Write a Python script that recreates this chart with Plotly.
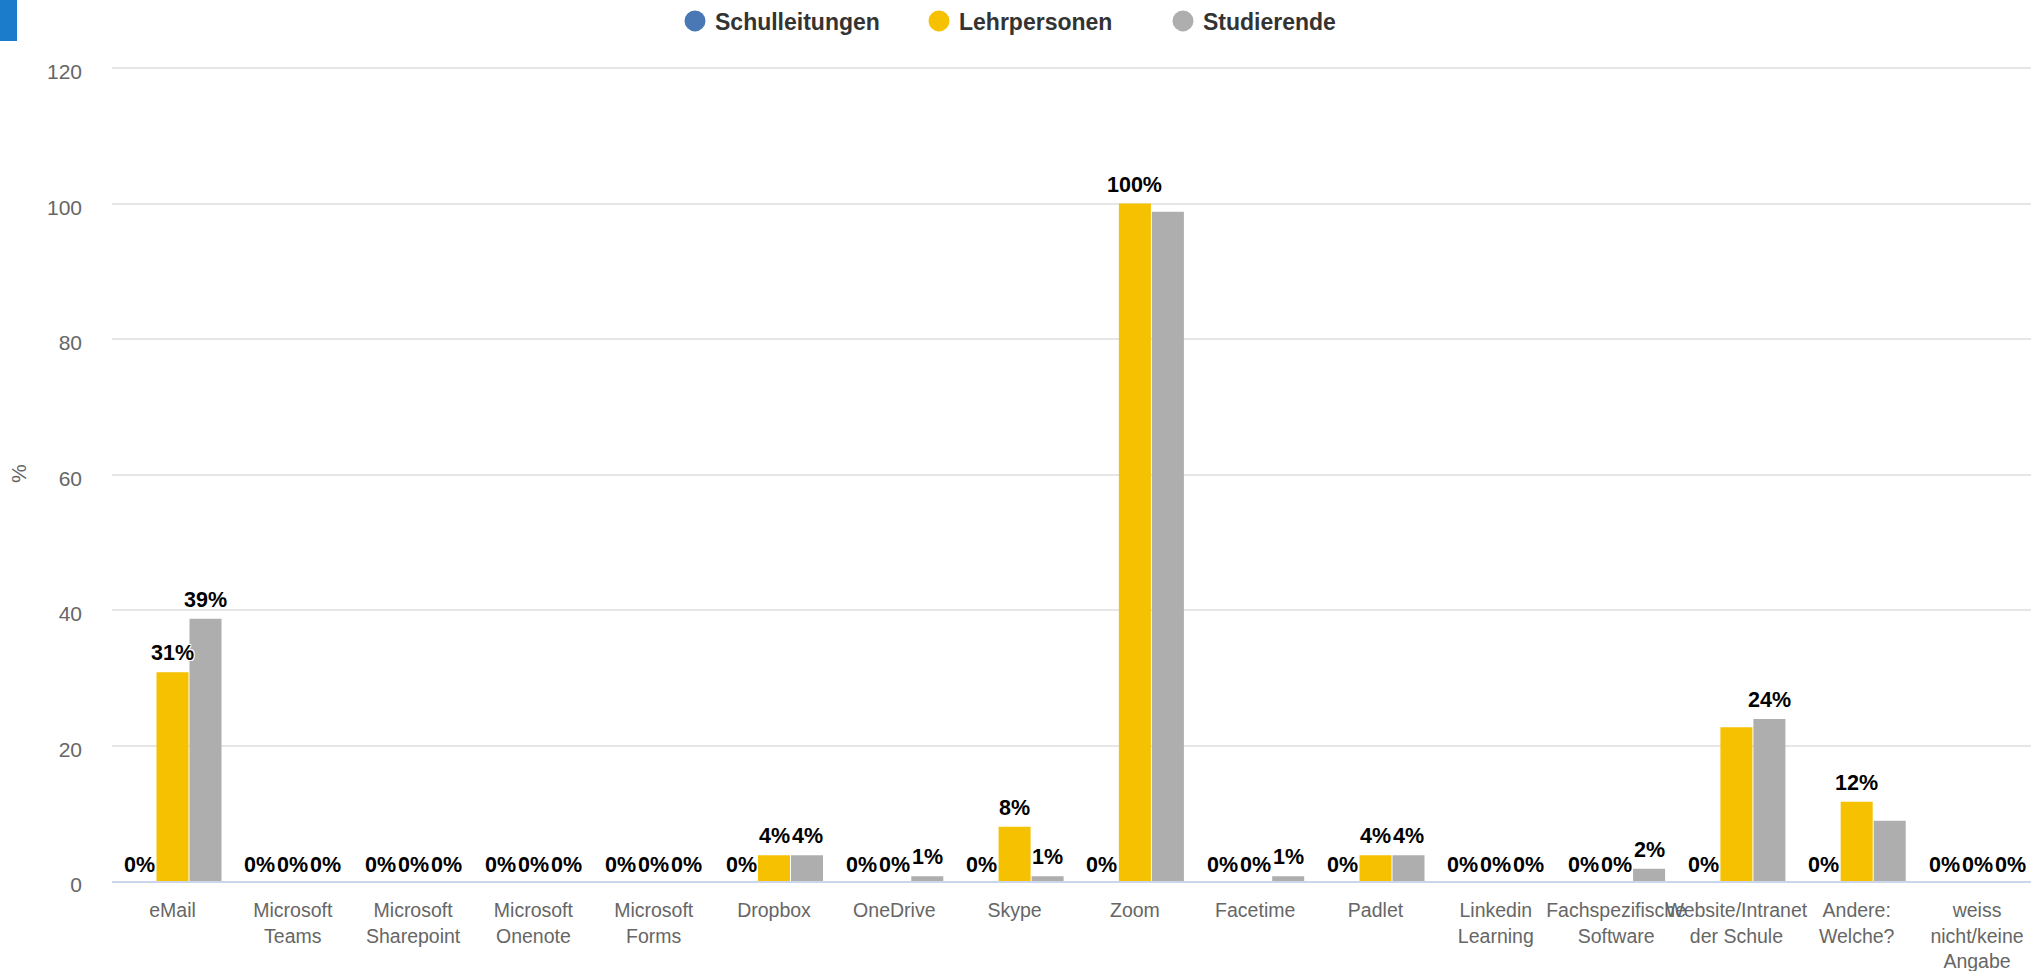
import plotly.graph_objects as go

categories = ["eMail", "Microsoft<br>Teams", "Microsoft<br>Sharepoint", "Microsoft<br>Onenote",
              "Microsoft<br>Forms", "Dropbox", "OneDrive", "Skype", "Zoom", "Facetime", "Padlet",
              "Linkedin<br>Learning", "Fachspezifische<br>Software", "Website/Intranet<br>der Schule",
              "Andere:<br>Welche?", "weiss<br>nicht/keine<br>Angabe"]

series_names = ["Schulleitungen", "Lehrpersonen", "Studierende"]
schulleitungen = [0, 0, 0, 0, 0, 0, 0, 0, 0, 0, 0, 0, 0, 0, 0, 0]
lehrpersonen = [30.8, 0, 0, 0, 0, 3.8, 0, 8.0, 100, 0, 3.8, 0, 0, 22.7, 11.7, 0]
studierende = [38.7, 0, 0, 0, 0, 3.8, 0.7, 0.7, 98.8, 0.7, 3.8, 0, 1.8, 23.9, 8.9, 0]
# data labels that the original chart hides because they overlap
hidden_labels = {"Lehrpersonen": [13], "Studierende": [8, 14], "Schulleitungen": []}

colors = ["#4a78b5", "#f5c100", "#aeaeae"]
y_ticks = [0, 20, 40, 60, 80, 100, 120]

FONT = "Liberation Sans, Arial, Helvetica, sans-serif"
W, H = 2031, 971
L, R, B = 112, 0, 90
Y_TOP = 120.15
unit = (881 - 68) / 120.0
T = round(68 - (Y_TOP - 120) * unit)
plot_w = W - L - R
plot_h = H - T - B
pitch = 120.3
slot = 33
x0 = -(172.5 - L) / pitch
x1 = x0 + plot_w / pitch

fig = go.Figure()
values = [schulleitungen, lehrpersonen, studierende]
for k, (name, vals, col) in enumerate(zip(series_names, values, colors)):
    fig.add_trace(go.Bar(
        x=categories, y=vals, name=name, marker=dict(color=col, line=dict(width=0)),
        showlegend=False, hoverinfo="x+y",
    ))
    # legend entry with circle symbol
    fig.add_trace(go.Scatter(
        x=[None], y=[None], mode="markers", name=name,
        marker=dict(color=col, size=16, symbol="circle", line=dict(color=col, width=5)),
        showlegend=True,
    ))
    for i, v in enumerate(vals):
        if i in hidden_labels[name]:
            continue
        fig.add_annotation(
            x=categories[i], y=v, xref="x", yref="y",
            text="<b>%d%%</b>" % round(v), showarrow=False,
            xanchor="center", yanchor="bottom",
            xshift=(k - 1) * slot, yshift=5 if v > 0 else 2.5,
            font=dict(family=FONT, size=21.5, color="#000000",
                      shadow="-1px -1px 0 #fff, 1px -1px 0 #fff, -1px 1px 0 #fff, 1px 1px 0 #fff"),
        )

fig.update_layout(
    width=W, height=H,
    margin=dict(l=L, r=R, t=T, b=B, pad=0, autoexpand=False),
    paper_bgcolor="white", plot_bgcolor="white",
    barmode="group", bargap=1 - 3 * slot / pitch, bargroupgap=1 / slot,
    font=dict(family=FONT, color="#666666"),
    showlegend=True,
    legend=dict(orientation="h", xanchor="left", yanchor="middle",
                x=(675 - L) / plot_w, y=1 + (T - 21) / plot_h,
                font=dict(family=FONT, size=23, color="#333333", weight="bold"),
                entrywidth=199, entrywidthmode="pixels",
                bgcolor="rgba(0,0,0,0)", itemclick=False, itemdoubleclick=False),
    xaxis=dict(
        type="category", range=[x0, x1], tickangle=0, automargin=False,
        tickfont=dict(family=FONT, size=19.5, color="#666666"),
        showgrid=False, showline=True, linecolor="#ccd6eb", linewidth=2,
        ticks="", ticklabelstandoff=11, fixedrange=True,
    ),
    yaxis=dict(
        range=[0, Y_TOP], tickvals=y_ticks, ticktext=[str(t) for t in y_ticks],
        automargin=False,
        tickfont=dict(family=FONT, size=21, color="#666666"),
        showgrid=True, gridcolor="#e6e6e6", gridwidth=1.5,
        zeroline=False, showline=False, ticks="", ticklabelstandoff=29,
        ticklabelshift=4, fixedrange=True,
    ),
    shapes=[dict(type="rect", xref="paper", yref="paper",
                 x0=(0 - L) / plot_w, x1=(17 - L) / plot_w,
                 y0=(H - B - 41) / plot_h, y1=(H - B) / plot_h,
                 fillcolor="#1b7ccb", line=dict(width=0), layer="above")],
)
fig.add_annotation(
    xref="paper", yref="paper", x=0, y=0.5, xshift=18 - L, text="%", textangle=-90,
    showarrow=False, xanchor="center", yanchor="middle",
    font=dict(family=FONT, size=21, color="#666666"),
)

fig.write_html("out.html", config={"displayModeBar": False},
               post_script="document.body.style.margin='0';document.body.style.overflow='hidden';")
